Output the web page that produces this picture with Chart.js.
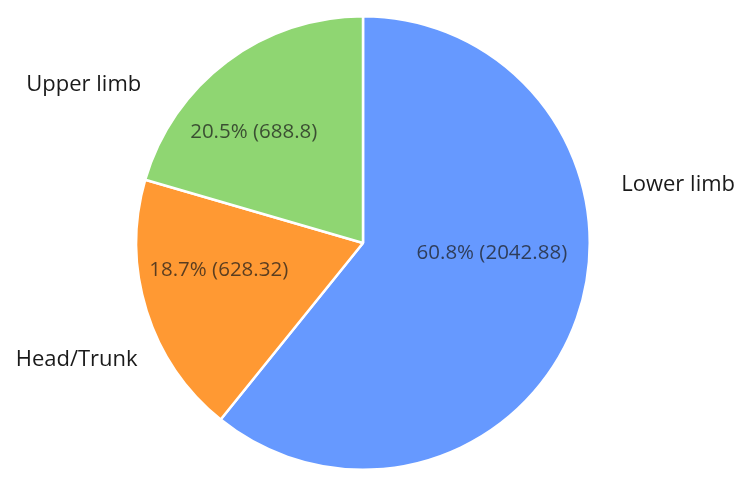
<!DOCTYPE html>
<html>
<head>
<meta charset="utf-8">
<script src="https://cdn.jsdelivr.net/npm/chart.js@4"></script>
<style>
  html, body { margin: 0; padding: 0; background: #fff; }
  #wrap { width: 750px; height: 482px; }
</style>
</head>
<body>
<div id="wrap"><canvas id="chartPie" width="750" height="482"></canvas></div>
<script>
const categories = ["Lower limb", "Head/Trunk", "Upper limb"];
const values = [2042.88, 628.32, 688.8];
const percentLabels = ["60.8%", "18.7%", "20.5%"];
const colors = ["#6699ff", "#ff9933", "#8fd672"];

// label anchors: [angle in degrees clockwise from top, distance as fraction of radius]
const innerPos = [[94.4, 0.57], [259.5, 0.647], [315.3, 0.685]];
const outerPos = [[79.6, 1.413], [247.9, 1.363], [299.5, 1.415]];

const FONT = '"Open Sans", "Noto Sans", sans-serif';

const pieLabels = {
  id: "pieLabels",
  afterDatasetsDraw(chart) {
    const ctx = chart.ctx;
    const arcs = chart.getDatasetMeta(0).data;
    ctx.save();
    ctx.textAlign = "center";
    ctx.textBaseline = "middle";
    arcs.forEach((arc, i) => {
      const r = arc.outerRadius;
      const place = ([deg, f]) => {
        const a = (deg * Math.PI) / 180;
        return [arc.x + Math.sin(a) * r * f, arc.y - Math.cos(a) * r * f];
      };
      let [x, y] = place(innerPos[i]);
      ctx.font = "20.5px " + FONT;
      ctx.fillStyle = "rgba(25,25,25,0.72)";
      ctx.fillText(percentLabels[i] + " (" + values[i] + ")", x, y);

      [x, y] = place(outerPos[i]);
      ctx.font = "22px " + FONT;
      ctx.fillStyle = "#1a1a1a";
      ctx.fillText(categories[i], x, y);
    });
    ctx.restore();
  },
};

new Chart(document.getElementById("chartPie").getContext("2d"), {
  type: "pie",
  data: {
    labels: categories,
    datasets: [{ data: values, backgroundColor: colors, borderColor: "#ffffff", borderWidth: 2.5 }],
  },
  options: {
    responsive: false,
    animation: false,
    layout: { padding: { top: 15, bottom: 11, left: 135, right: 159 } },
    plugins: { legend: { display: false }, tooltip: { enabled: false } },
  },
  plugins: [pieLabels],
});
</script>
</body>
</html>
